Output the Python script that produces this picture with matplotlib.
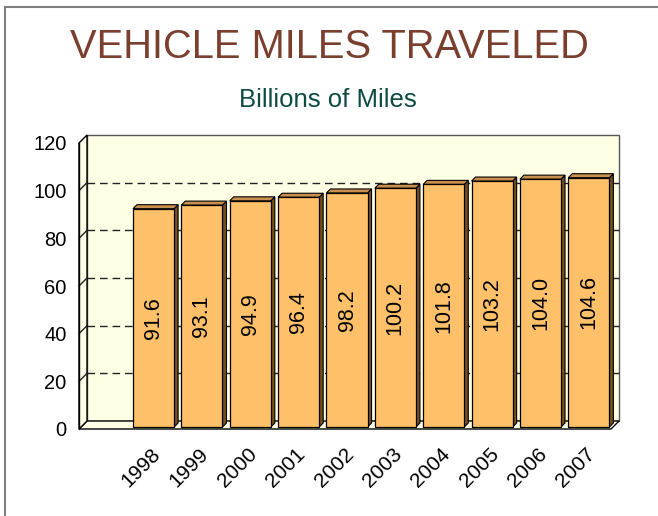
import numpy as np
import matplotlib
matplotlib.use("Agg")
import matplotlib.pyplot as plt
from matplotlib.patches import Polygon
from matplotlib.lines import Line2D
import matplotlib.transforms as mtransforms

# data
years = ["1998", "1999", "2000", "2001", "2002", "2003", "2004", "2005", "2006", "2007"]
miles = [91.6, 93.1, 94.9, 96.4, 98.2, 100.2, 101.8, 103.2, 104.0, 104.6]
yticks = [0, 20, 40, 60, 80, 100, 120]

# colours
wall_col = "#FFFFE6"
face_col = "#FFC06A"
top_col = "#C98F4E"
side_col = "#74501F"
title_col = "#7B3F2E"
sub_col = "#0E4A44"

plt.rcParams["font.family"] = ["Liberation Sans", "DejaVu Sans"]

DPI = 100
fig = plt.figure(figsize=(6.58, 5.16), dpi=DPI)
ax = fig.add_axes([79 / 658, 87 / 516, 532 / 658, 286 / 516])
ax.set_xlim(-0.5, 10.5)
ax.set_ylim(0, 120)
ax.patch.set_visible(False)
for s in ax.spines.values():
    s.set_visible(False)

WALL = 8   # depth of back wall, pixels
BOFF = 2   # bar offset behind front
BDEP = 4   # bar depth

def px(x, y):
    return ax.transData.transform((x, y))

def poly(points, **kw):
    p = Polygon(points, closed=True, transform=mtransforms.IdentityTransform(), **kw)
    fig.add_artist(p)
    return p

def seg(p0, p1, **kw):
    l = Line2D([p0[0], p1[0]], [p0[1], p1[1]], transform=mtransforms.IdentityTransform(), **kw)
    fig.add_artist(l)
    return l

x0, x1 = ax.get_xlim()
y0, y1 = ax.get_ylim()
d = np.array([WALL, WALL])

# back wall
fl, fr = px(x0, y0), px(x1, y0)
tl, tr = px(x0, y1), px(x1, y1)
poly([fl + d, fr + d, tr + d, tl + d], facecolor=wall_col, edgecolor="#555555", lw=1.0, zorder=1)
# floor
poly([fl, fr, fr + d, fl + d], facecolor=wall_col, edgecolor="black", lw=1.0, zorder=2)
# left side wall
poly([fl, tl, tl + d, fl + d], facecolor=wall_col, edgecolor="black", lw=1.0, zorder=2)

# gridlines on back wall and side wall
for g in yticks[1:-1]:
    a, b = px(x0, g), px(x1, g)
    seg(a + d, b + d, color="#222222", lw=1.0, linestyle=(0, (5.5, 3.5)), zorder=1.5)
    seg(a, a + d, color="#222222", lw=1.0, zorder=2.5)

# bars with simple 3d faces
w = 0.85
xs = np.arange(1, len(years) + 1)
off = np.array([BOFF, BOFF])
dd = np.array([BDEP, BDEP])
for x, v in zip(xs, miles):
    bl, br = px(x - w / 2, 0) + off, px(x + w / 2, 0) + off
    tl_, tr_ = px(x - w / 2, v) + off, px(x + w / 2, v) + off
    poly([br, tr_, tr_ + dd, br + dd], facecolor=side_col, edgecolor="black", lw=0.8, zorder=3)
    poly([tl_, tr_, tr_ + dd, tl_ + dd], facecolor=top_col, edgecolor="black", lw=0.8, zorder=3)
    poly([bl, br, tr_, tl_], facecolor=face_col, edgecolor="black", lw=0.9, zorder=4)
    c = px(x, v / 2) + off
    fig.text(c[0] / fig.bbox.width, c[1] / fig.bbox.height, f"{v:.1f}",
             rotation=90, ha="center", va="center", fontsize=15.5, zorder=5)

# front axis line
seg(fl, tl, color="black", lw=1.0, zorder=2.6)

# ticks
ax.set_yticks(yticks)
ax.set_yticklabels([str(t) for t in yticks], fontsize=14.5)
ax.tick_params(axis="y", length=0, pad=9)
ax.set_xticks(xs)
ax.set_xticklabels(years, fontsize=15, rotation=45, ha="right", va="top",
                   rotation_mode="anchor")
ax.tick_params(axis="x", length=0, pad=11)
shift = mtransforms.ScaledTranslation(-1 / DPI, 0, fig.dpi_scale_trans)
for lab in ax.get_xticklabels():
    lab.set_transform(lab.get_transform() + shift)

# titles
fig.text(329 / 658, 1 - 47 / 516, "VEHICLE MILES TRAVELED", ha="center", va="center",
         fontsize=28.7, color=title_col)
fig.text(328 / 658, 1 - 100 / 516, "Billions of Miles", ha="center", va="center",
         fontsize=18.5, color=sub_col)

# outer frame (top and left edges)
fig.add_artist(Line2D([5 / 658, 5 / 658], [0, 1 - 7 / 516], transform=fig.transFigure,
                      color="#808080", lw=1.5))
fig.add_artist(Line2D([5 / 658, 1], [1 - 7 / 516, 1 - 7 / 516], transform=fig.transFigure,
                      color="#808080", lw=1.5))

fig.savefig("out.png", dpi=DPI)
